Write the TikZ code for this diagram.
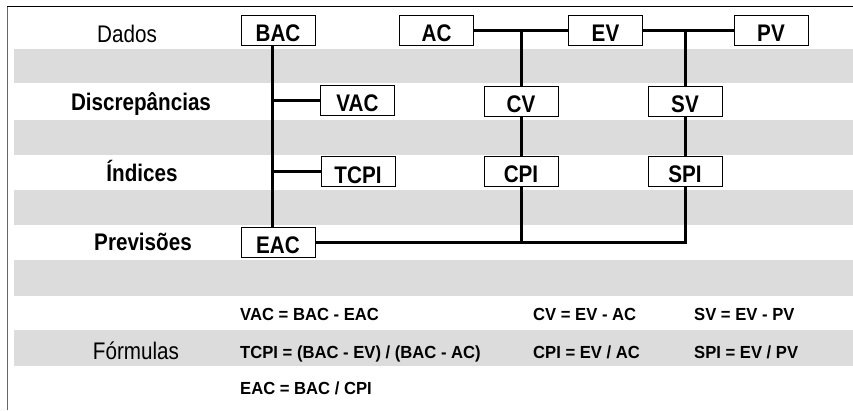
\documentclass[tikz,border=0pt]{standalone}
\usepackage{fontspec}
\setmainfont[FakeStretch=0.86]{Liberation Sans}
\newfontfamily\formfont[FakeStretch=0.95]{Liberation Sans}
\definecolor{stripegray}{HTML}{DCDCDC}
\definecolor{framegray}{HTML}{666666}
\begin{document}
\begin{tikzpicture}[x=1pt,y=-1pt,
  box/.style={draw=black, line width=0.8pt, fill=white, minimum width=74pt, minimum height=30pt, inner sep=0pt, text height=23pt, text depth=0pt, font=\bfseries\fontsize{24}{26}\selectfont},
  conn/.style={line width=3pt},
  rowlab/.style={anchor=base, inner sep=0pt, font=\fontsize{24}{26}\selectfont},
  rowlabb/.style={rowlab, font=\bfseries\fontsize{24}{26}\selectfont},
  form/.style={anchor=base west, inner sep=0pt, font=\formfont\bfseries\fontsize{17.5}{19}\selectfont},
  stripe/.style={fill=stripegray, draw=none}]
\useasboundingbox (0,0) rectangle (853,410);
% frame
\draw[framegray, line width=1.6pt] (7.5,410) -- (7.5,6);
\draw[black, line width=1pt] (7,6) -- (853,6);
% stripes
\fill[stripe] (14,49) rectangle (853,83);
\fill[stripe] (14,120) rectangle (853,155);
\fill[stripe] (14,190) rectangle (853,225);
\fill[stripe] (14,260) rectangle (853,296);
\fill[stripe] (14,330) rectangle (853,365.5);
% row labels
\node[rowlab] (lDados) at (127,42) {Dados};
\node[rowlabb] (lDisc) at (141,110) {Discrepâncias};
\node[rowlabb] (lInd) at (142,181) {Índices};
\node[rowlabb] (lPrev) at (143,250) {Previsões};
\node[rowlab] (lForm) at (136,359) {Fórmulas};
% boxes
\node[box] (BAC) at (278,30) {BAC};
\node[box] (AC) at (436.5,30) {AC};
\node[box] (EV) at (605.5,30) {EV};
\node[box] (PV) at (771,30) {PV};
\node[box] (VAC) at (357.5,100) {VAC};
\node[box] (CV) at (521,101) {CV};
\node[box] (SV) at (685,101) {SV};
\node[box] (TCPI) at (358,171.5) {TCPI};
\node[box] (CPI) at (521,171) {CPI};
\node[box] (SPI) at (685,171) {SPI};
\node[box] (EAC) at (278,242) {EAC};
% connectors
\coordinate (bt) at ([xshift=-6pt]BAC.south);
\coordinate (eb) at ([xshift=-6pt]EAC.north);
\draw[conn] (bt) -- (eb);
\draw[conn] (VAC.west) -- (VAC.west -| bt);
\draw[conn] (TCPI.west) -- (TCPI.west -| bt);
\draw[conn] (AC.east) -- (EV.west);
\draw[conn] (EV.east) -- (PV.west);
\coordinate (j1) at (CV |- AC.east);
\coordinate (j2) at (SV |- EV.east);
\draw[conn] (j1) -- (CV.north);
\draw[conn] (CV.south) -- (CPI.north);
\draw[conn] (j2) -- (SV.north);
\draw[conn] (SV.south) -- (SPI.north);
\coordinate (j3) at (CPI |- EAC.east);
\coordinate (j4) at (SPI |- EAC.east);
\draw[conn] (CPI.south) -- (j3);
\draw[conn, line join=miter] (EAC.east) -- (j4) -- (SPI.south);
% formulas
\node[form] (f1) at (240,320) {VAC = BAC - EAC};
\node[form] (f2) at (240,358) {TCPI = (BAC - EV) / (BAC - AC)};
\node[form] (f3) at (240,394.5) {EAC = BAC / CPI};
\node[form] (f4) at (533,320) {CV = EV - AC};
\node[form] (f5) at (533,358) {CPI = EV / AC};
\node[form] (f6) at (694,320) {SV = EV - PV};
\node[form] (f7) at (694,358) {SPI = EV / PV};
\end{tikzpicture}
\end{document}
